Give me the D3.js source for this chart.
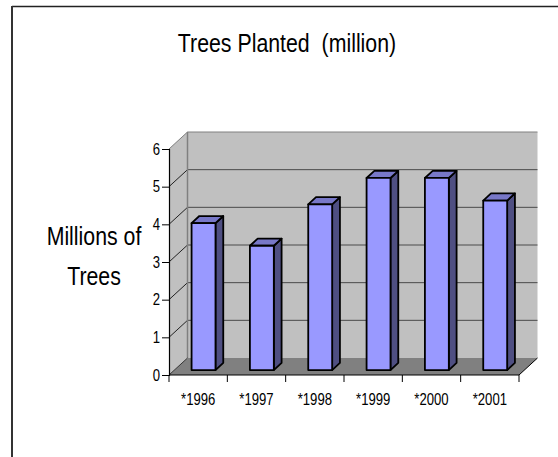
<!DOCTYPE html>
<html>
<head>
<meta charset="utf-8">
<script src="https://cdn.jsdelivr.net/npm/d3@7"></script>
<style>
  html, body { margin: 0; padding: 0; background: #fff; }
  svg { display: block; }
  text { font-family: "Liberation Sans", Arial, sans-serif; fill: #000; white-space: pre; }
</style>
</head>
<body>
<svg id="chart" width="558" height="457"></svg>
<script>
// Trees planted per year, millions
const years = ["*1996", "*1997", "*1998", "*1999", "*2000", "*2001"];
const treesPlanted = [3.9, 3.3, 4.4, 5.1, 5.1, 4.5];
const yTicks = [0, 1, 2, 3, 4, 5, 6];
const titleText = "Trees Planted  (million)";
const yTitleLines = ["Millions of", "Trees"];

// Text is drawn in a condensed Arial-like face
const squeeze = 0.82;

const svg = d3.select("#chart");

// Outer frame (left and top edges)
svg.append("line").attr("x1", 12).attr("y1", 6.5).attr("x2", 558).attr("y2", 6.5)
  .attr("stroke", "#222").attr("stroke-width", 1.6);
svg.append("line").attr("x1", 12).attr("y1", 6).attr("x2", 12).attr("y2", 457)
  .attr("stroke", "#333").attr("stroke-width", 2);

// Front plane scales
const x = d3.scaleBand().domain(years).range([169, 519]).padding(0);
const y = d3.scaleLinear().domain([0, 6]).range([375, 149]);

// 3D depth offset of the back wall
const dx = 18.5, dy = -17;
const f0 = 0.29, f1 = 0.71;   // bar front / back depth fraction
const barFrac = 0.41;         // bar width as share of band

const x0 = x.range()[0], x1 = x.range()[1];
const yBot = y(0), yTop = y(6);
const pts = a => a.map(p => p.join(",")).join(" ");

// Side wall
svg.append("polygon")
  .attr("points", pts([[x0, yTop], [x0 + dx, yTop + dy], [x0 + dx, yBot + dy], [x0, yBot]]))
  .attr("fill", "#c0c0c0").attr("stroke", "none");
// Back wall
svg.append("polygon")
  .attr("points", pts([[x0 + dx, yTop + dy], [x1 + dx, yTop + dy], [x1 + dx, yBot + dy], [x0 + dx, yBot + dy]]))
  .attr("fill", "#c0c0c0").attr("stroke", "none");

// Gridlines: back wall horizontals and side wall diagonals
const grid = svg.append("g");
yTicks.filter(t => t > 0).forEach(t => {
  const yy = y(t);
  grid.append("line")
    .attr("x1", x0 + dx).attr("y1", yy + dy).attr("x2", x1 + dx).attr("y2", yy + dy)
    .attr("stroke", t === 6 ? "#808080" : "#4a4a4a").attr("stroke-width", 1);
  grid.append("line")
    .attr("x1", x0).attr("y1", yy).attr("x2", x0 + dx).attr("y2", yy + dy)
    .attr("stroke", t === 6 ? "#808080" : "#222").attr("stroke-width", 1);
});
// Back wall left edge
grid.append("line")
  .attr("x1", x0 + dx).attr("y1", yTop + dy).attr("x2", x0 + dx).attr("y2", yBot + dy)
  .attr("stroke", "#808080").attr("stroke-width", 1.5);

// Floor
svg.append("polygon")
  .attr("points", pts([[x0, yBot], [x0 + dx, yBot + dy], [x1 + dx, yBot + dy], [x1, yBot]]))
  .attr("fill", "#808080").attr("stroke", "none");
svg.append("line")
  .attr("x1", x0).attr("y1", yBot).attr("x2", x0 + dx).attr("y2", yBot + dy)
  .attr("stroke", "#333").attr("stroke-width", 1);
svg.append("line")
  .attr("x1", x1).attr("y1", yBot).attr("x2", x1 + dx).attr("y2", yBot + dy)
  .attr("stroke", "#000").attr("stroke-width", 1);

// Bars
const bw = x.bandwidth() * barFrac;
const ddx = (f1 - f0) * dx, ddy = (f1 - f0) * dy;
const bars = svg.append("g").selectAll("g").data(years).join("g");
bars.each(function (d, i) {
  const g = d3.select(this);
  const xl = x(d) + (x.bandwidth() - bw) / 2 + f0 * dx;
  const xr = xl + bw;
  const yb = y(0) + f0 * dy;
  const yt = y(treesPlanted[i]) + f0 * dy;
  const style = s => s.attr("stroke", "#000").attr("stroke-width", 1.8).attr("stroke-linejoin", "round");
  g.append("polygon")
    .attr("points", pts([[xr, yt], [xr + ddx, yt + ddy], [xr + ddx, yb + ddy], [xr, yb]]))
    .attr("fill", "#4f4f82").call(style);
  g.append("polygon")
    .attr("points", pts([[xl, yt], [xl + ddx, yt + ddy], [xr + ddx, yt + ddy], [xr, yt]]))
    .attr("fill", "#7878c8").call(style);
  g.append("rect")
    .attr("x", xl).attr("y", yt).attr("width", bw).attr("height", yb - yt)
    .attr("fill", "#9999ff").call(style);
});

// Y axis
const yAxis = svg.append("g").attr("transform", `translate(${x0},0)`)
  .call(d3.axisLeft(y).tickValues(yTicks).tickFormat(d3.format("d")).tickSize(7).tickPadding(2));
yAxis.select(".domain").attr("stroke", "#000").attr("stroke-width", 1.2);
yAxis.selectAll(".tick line").attr("stroke", "#000");
yAxis.selectAll("text").attr("font-size", 16).attr("font-family", null)
  .attr("x", -9 / squeeze).attr("transform", `scale(${squeeze},1)`);

// X axis: labels centred in bands, ticks on band boundaries
const xAxis = svg.append("g").attr("transform", `translate(0,${yBot})`)
  .call(d3.axisBottom(x).tickSize(0).tickPadding(18.6));
xAxis.select(".domain").remove();
xAxis.selectAll("text").attr("font-size", 16).attr("font-family", null)
  .attr("transform", `scale(${squeeze},1)`);
svg.append("line").attr("x1", x0).attr("y1", yBot).attr("x2", x1).attr("y2", yBot)
  .attr("stroke", "#000").attr("stroke-width", 1.2);
const bounds = years.map(d => x(d)).concat([x1]);
svg.append("g").selectAll("line").data(bounds).join("line")
  .attr("x1", d => d).attr("x2", d => d).attr("y1", yBot).attr("y2", yBot + 7)
  .attr("stroke", "#000").attr("stroke-width", 1);

// Titles
svg.append("text")
  .attr("transform", `translate(287,52) scale(${squeeze},1)`)
  .attr("text-anchor", "middle").attr("font-size", 26).text(titleText);
svg.append("g").selectAll("text").data(yTitleLines).join("text")
  .attr("transform", (d, i) => `translate(94,${245 + i * 40}) scale(${squeeze},1)`)
  .attr("text-anchor", "middle").attr("font-size", 26).text(d => d);
</script>
</body>
</html>
